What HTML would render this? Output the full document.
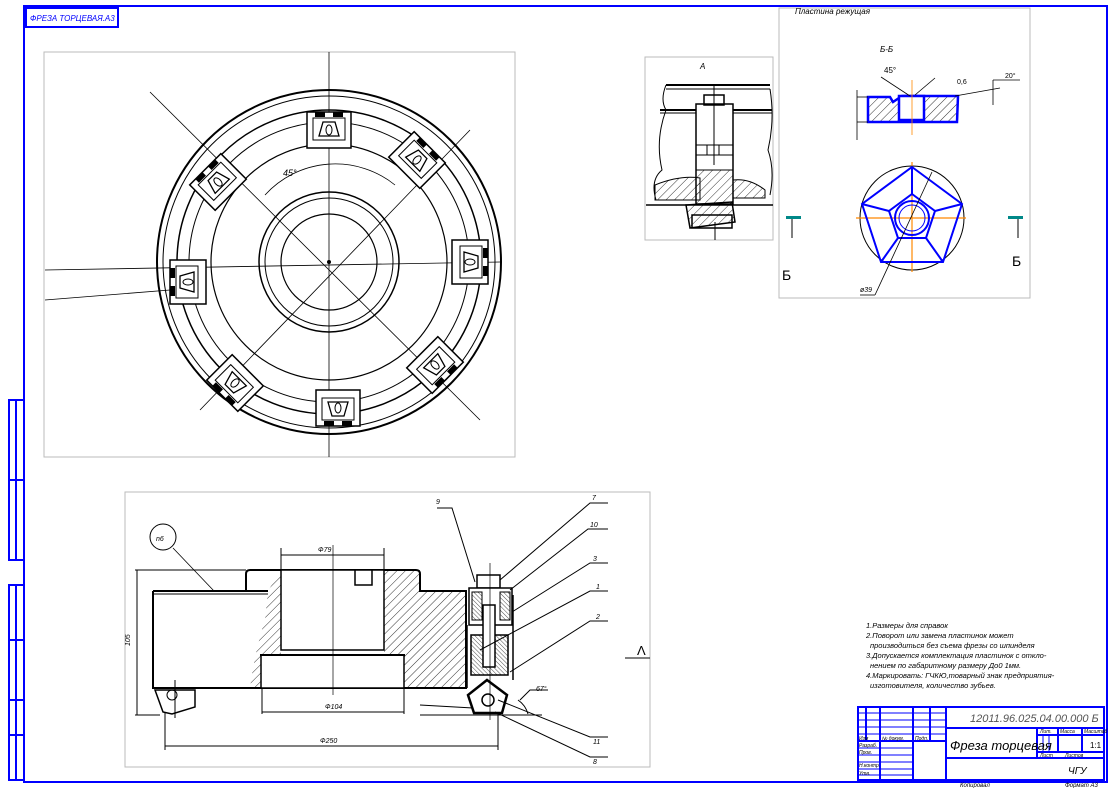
<!DOCTYPE html>
<html><head><meta charset="utf-8"><style>
html,body{margin:0;padding:0;background:#fff;}
svg{display:block;font-family:"Liberation Sans","DejaVu Sans",sans-serif;}
</style></head><body>
<svg width="1111" height="788" viewBox="0 0 1111 788" xmlns="http://www.w3.org/2000/svg">
<defs>
<pattern id="h" width="6" height="6" patternUnits="userSpaceOnUse" patternTransform="rotate(45)"><line x1="0" y1="0" x2="0" y2="6" stroke="#000" stroke-width="0.8"/></pattern>
<pattern id="h2" width="3" height="3" patternUnits="userSpaceOnUse" patternTransform="rotate(-45)"><line x1="0" y1="0" x2="0" y2="3" stroke="#000" stroke-width="0.7"/></pattern>
<g id="ins">
<rect x="-22" y="-18" width="44" height="36" fill="#fff" stroke="#000" stroke-width="1.5"/>
<rect x="-16" y="-12" width="32" height="22" fill="#fff" stroke="#000" stroke-width="1"/>
<rect x="-14" y="-18" width="10" height="5" fill="#000"/>
<rect x="4" y="-18" width="10" height="5" fill="#000"/>
<path d="M-10,6 L10,6 L6,-8 L-6,-8 Z" fill="#fff" stroke="#000" stroke-width="1.3"/>
<ellipse cx="0" cy="0" rx="3" ry="5" fill="none" stroke="#000"/>
</g>
</defs>
<rect width="1111" height="788" fill="#fff"/>
<!-- frame -->
<rect x="24" y="6" width="1083" height="776" fill="none" stroke="#00f" stroke-width="2"/>
<rect x="26" y="8" width="92" height="19" fill="none" stroke="#00f" stroke-width="2"/>
<text x="30" y="21" font-size="8" fill="#00f" font-style="italic">ФРЕЗА ТОРЦЕВАЯ.А3</text>
<g stroke="#00f" stroke-width="2" fill="none">
<rect x="9" y="400" width="15" height="160"/><line x1="9" y1="480" x2="24" y2="480"/>
<rect x="9" y="585" width="15" height="195"/><line x1="9" y1="640" x2="24" y2="640"/><line x1="9" y1="700" x2="24" y2="700"/><line x1="9" y1="735" x2="24" y2="735"/>
<line x1="16" y1="400" x2="16" y2="560"/><line x1="16" y1="585" x2="16" y2="780"/>
</g>

<!-- top view -->
<rect x="44" y="52" width="471" height="405" fill="none" stroke="#bbb"/>
<g fill="none" stroke="#000">
<line x1="329" y1="52" x2="329" y2="457" stroke-width="0.8"/>
<line x1="45" y1="270" x2="500" y2="262" stroke-width="0.8"/>
<line x1="150" y1="92" x2="480" y2="420" stroke-width="0.8"/>
<line x1="470" y1="130" x2="200" y2="410" stroke-width="0.8"/>
<line x1="45" y1="300" x2="170" y2="290" stroke-width="0.8"/>
<circle cx="329" cy="262" r="172" stroke-width="2"/>
<circle cx="329" cy="262" r="166" stroke-width="1"/>
<circle cx="329" cy="262" r="152" stroke-width="1.5"/>
<circle cx="329" cy="262" r="140" stroke-width="1"/>
<circle cx="329" cy="262" r="118" stroke-width="1.2"/>
<circle cx="329" cy="262" r="70" stroke-width="1.5"/>
<circle cx="329" cy="262" r="64" stroke-width="1"/>
<circle cx="329" cy="262" r="48" stroke-width="1.2"/>
<path d="M265,195 A95,95 0 0 1 395,185" stroke-width="0.8"/>
</g>
<text x="283" y="176" font-size="9" font-style="italic">45°</text>
<circle cx="329" cy="262" r="2" fill="#000"/>
<use href="#ins" transform="translate(329,130) rotate(0)"/>
<use href="#ins" transform="translate(417,160) rotate(45)"/>
<use href="#ins" transform="translate(470,262) rotate(90)"/>
<use href="#ins" transform="translate(435,365) rotate(135)"/>
<use href="#ins" transform="translate(338,408) rotate(180)"/>
<use href="#ins" transform="translate(235,383) rotate(225)"/>
<use href="#ins" transform="translate(188,282) rotate(270)"/>
<use href="#ins" transform="translate(218,182) rotate(315)"/>

<!-- view A -->
<rect x="645" y="57" width="128" height="183" fill="none" stroke="#bbb"/>
<text x="700" y="69" font-size="8" font-style="italic">A</text>
<g fill="none" stroke="#000">
<line x1="666" y1="85" x2="770" y2="85" stroke-width="2"/><line x1="666" y1="89" x2="770" y2="89"/>
<line x1="660" y1="110" x2="772" y2="110" stroke-width="2"/><line x1="660" y1="113" x2="772" y2="113"/>
<path d="M666,85 Q660,100 666,110 Q655,140 662,170 Q650,180 656,200" />
<path d="M770,89 Q775,120 768,150 Q775,170 770,195" />
<rect x="696" y="104" width="37" height="100" stroke-width="1.5" fill="#fff"/>
<rect x="704" y="95" width="20" height="10" stroke-width="1.5"/>
<line x1="696" y1="145" x2="733" y2="145"/><line x1="696" y1="155" x2="733" y2="155"/>
<rect x="707" y="145" width="12" height="10"/>
<line x1="714" y1="85" x2="714" y2="165"/>
<path d="M655,185 Q680,175 700,178 L700,200 L655,200 Z" fill="url(#h)"/>
<path d="M733,180 Q750,178 765,190 L765,198 L733,198 Z" fill="url(#h)"/>
<rect x="696" y="170" width="37" height="34" fill="url(#h)"/>
<line x1="646" y1="205" x2="773" y2="205" stroke-width="1.5"/>
<path d="M686,205 L732,202 L735,222 L690,228 Z" fill="url(#h)" stroke-width="1.5"/>
<rect x="692" y="215" width="40" height="13" stroke-width="1.5"/>
<line x1="715" y1="222" x2="715" y2="240"/>
</g>

<!-- view Б -->
<rect x="779" y="8" width="251" height="290" fill="none" stroke="#bbb"/>
<text x="795" y="14" font-size="8" font-style="italic">Пластина режущая</text>
<text x="880" y="52" font-size="8" font-style="italic">Б-Б</text>
<path d="M868,97 L890,97 L893,102 L902,96 L958,96 L957,122 L868,122 Z" fill="url(#h)" stroke="#00f" stroke-width="2.5"/>
<rect x="899" y="96" width="25" height="24" fill="#fff" stroke="#00f" stroke-width="2.5"/>
<g stroke="#000" fill="none" stroke-width="0.8">
<line x1="912" y1="80" x2="912" y2="135" stroke="#f80"/>
<line x1="857" y1="97" x2="868" y2="97"/><line x1="857" y1="122" x2="868" y2="122"/>
<line x1="857" y1="90" x2="857" y2="140"/>
<line x1="881" y1="77" x2="910" y2="96"/><line x1="915" y1="95" x2="935" y2="78"/>
<line x1="955" y1="96" x2="1000" y2="88"/><line x1="993" y1="80" x2="1020" y2="80"/><line x1="993" y1="80" x2="993" y2="105"/>
</g>
<text x="884" y="73" font-size="8">45°</text><text x="957" y="84" font-size="7">0,6</text><text x="1005" y="78" font-size="7">20°</text>
<circle cx="912" cy="218" r="52" fill="none" stroke="#000"/>
<line x1="856" y1="218" x2="966" y2="218" stroke="#f80" stroke-width="1.2"/>
<line x1="912" y1="162" x2="912" y2="272" stroke="#f80" stroke-width="1.2"/>
<g fill="none" stroke="#00f" stroke-width="2">
<polygon points="912,167 962,204 943,262 881,262 862,204"/>
<polygon points="912,194 935,211 926,238 898,238 889,211"/>
<line x1="912" y1="167" x2="912" y2="194"/><line x1="962" y1="204" x2="935" y2="211"/><line x1="943" y1="262" x2="926" y2="238"/><line x1="881" y1="262" x2="898" y2="238"/><line x1="862" y1="204" x2="889" y2="211"/>
<circle cx="912" cy="218" r="17"/><circle cx="912" cy="218" r="13" stroke-width="1"/>
</g>
<line x1="932" y1="172" x2="875" y2="295" stroke="#000" stroke-width="0.8"/>
<line x1="860" y1="295" x2="875" y2="295" stroke="#000" stroke-width="0.8"/>
<text x="860" y="292" font-size="7" font-style="italic">ø39</text>
<rect x="786" y="216" width="15" height="3" fill="#088"/><line x1="792" y1="219" x2="792" y2="238" stroke="#000"/>
<rect x="1008" y="216" width="15" height="3" fill="#088"/><line x1="1018" y1="219" x2="1018" y2="238" stroke="#000"/>
<text x="782" y="280" font-size="14">Б</text><text x="1012" y="266" font-size="14">Б</text>

<!-- section view -->
<rect x="125" y="492" width="525" height="275" fill="none" stroke="#bbb"/>
<circle cx="163" cy="537" r="13" fill="none" stroke="#000"/>
<text x="156" y="541" font-size="7" font-style="italic">n6</text>
<line x1="173" y1="548" x2="214" y2="591" stroke="#000" stroke-width="0.8"/>
<g stroke="#000" fill="none">
<path d="M268,591 L281,570 L281,655 L261,655 L261,688 L250,688 Q255,650 265,620 Z" fill="url(#h)" stroke="none"/>
<path d="M384,570 L416,570 Q420,570 420,574 L420,591 L466,591 L466,688 L404,688 L404,655 L384,655 Z" fill="url(#h)" stroke="none"/>
<path d="M153,591 L268,591 M246,591 L246,574 Q246,570 250,570 L416,570 Q420,570 420,574 L420,591 L466,591 L466,688 L153,688 L153,591" stroke-width="2"/>
<line x1="153" y1="594" x2="268" y2="594"/>
<rect x="281" y="570" width="103" height="80" stroke-width="1.5" fill="#fff"/>
<rect x="355" y="570" width="17" height="15" stroke-width="1.5" fill="#fff"/>
<rect x="261" y="655" width="143" height="33" stroke-width="1.5" fill="#fff"/>
<line x1="260" y1="655" x2="405" y2="655" stroke-width="2"/>
<line x1="333" y1="545" x2="333" y2="695" stroke-width="0.7"/>
<path d="M155,690 L195,690 L195,707 L172,714 L163,712 Z" stroke-width="1.5" fill="#fff"/>
<circle cx="172" cy="695" r="5"/>
<line x1="175" y1="680" x2="175" y2="718"/>
<line x1="281" y1="555" x2="384" y2="555"/><line x1="281" y1="548" x2="281" y2="570"/><line x1="384" y1="548" x2="384" y2="570"/>
<line x1="262" y1="712" x2="404" y2="712"/><line x1="262" y1="688" x2="262" y2="714"/><line x1="404" y1="688" x2="404" y2="714"/>
<line x1="165" y1="746" x2="498" y2="746"/><line x1="165" y1="712" x2="165" y2="750"/><line x1="498" y1="712" x2="498" y2="750"/>
<line x1="137" y1="570" x2="137" y2="715"/><line x1="135" y1="570" x2="246" y2="570"/><line x1="135" y1="715" x2="160" y2="715"/>
<rect x="477" y="575" width="23" height="13" stroke-width="1.5" fill="#fff"/>
<rect x="469" y="588" width="43" height="37" stroke-width="1.5" fill="#fff"/>
<rect x="472" y="592" width="10" height="28" fill="url(#h2)"/><rect x="500" y="592" width="10" height="28" fill="url(#h2)"/>
<rect x="471" y="635" width="37" height="40" fill="url(#h2)" stroke-width="1.5"/>
<rect x="483" y="605" width="12" height="62" stroke-width="1.5" fill="#fff"/>
<line x1="513" y1="595" x2="513" y2="680" stroke-width="1.5"/>
<line x1="467" y1="625" x2="467" y2="688" stroke-width="1.5"/>
<polygon points="487,680 507,695 502,713 474,713 468,695" stroke-width="2.5" fill="#fff"/>
<circle cx="488" cy="700" r="6" stroke-width="1.5"/>
<line x1="490" y1="563" x2="490" y2="720" stroke-width="0.7"/>
<line x1="420" y1="705" x2="473" y2="708"/><line x1="420" y1="715" x2="542" y2="715"/>
<path d="M518,700 A25,25 0 0 1 528,714"/>
<polyline points="437,508 452,508 475,582"/>
<polyline points="608,503 590,503 500,580"/>
<polyline points="608,529 588,529 510,590"/>
<polyline points="608,563 590,563 512,612"/>
<polyline points="608,591 590,591 480,650"/>
<polyline points="608,621 590,621 510,672"/>
<polyline points="608,737 590,737 498,700"/>
<polyline points="608,757 590,757 495,712"/>
<polyline points="548,690 530,690 520,700"/>
<line x1="625" y1="658" x2="650" y2="658"/>
</g>
<g font-size="7" font-style="italic">
<text x="318" y="552">Ф79</text><text x="325" y="709">Ф104</text><text x="320" y="743">Ф250</text>
<text x="130" y="646" transform="rotate(-90 130 646)">105</text>
<text x="436" y="504">9</text><text x="592" y="500">7</text><text x="590" y="527">10</text><text x="593" y="561">3</text>
<text x="596" y="589">1</text><text x="596" y="619">2</text><text x="593" y="744">11</text><text x="593" y="764">8</text>
<text x="536" y="691">67°</text>
</g>
<text x="637" y="655" font-size="13">Λ</text>

<g font-size="7.5" font-style="italic">
<text x="866" y="628">1.Размеры для справок</text>
<text x="866" y="638">2.Поворот или замена пластинок может</text>
<text x="870" y="648">производиться без съема фрезы со шпинделя</text>
<text x="866" y="658">3.Допускается комплектация пластинок с откло-</text>
<text x="870" y="668">нением по габаритному размеру До0 1мм.</text>
<text x="866" y="678">4.Маркировать: ГЧКЮ,товарный знак предприятия-</text>
<text x="870" y="688">изготовителя, количество зубьев.</text>
</g>

<g stroke="#00f" stroke-width="2" fill="none">
<rect x="858" y="707" width="246" height="73"/>
<line x1="946" y1="707" x2="946" y2="780"/>
<line x1="866" y1="707" x2="866" y2="740"/><line x1="880" y1="707" x2="880" y2="780"/><line x1="913" y1="707" x2="913" y2="780"/><line x1="930" y1="707" x2="930" y2="740"/>
<line x1="946" y1="728" x2="1104" y2="728"/><line x1="946" y1="758" x2="1104" y2="758"/>
<line x1="1037" y1="728" x2="1037" y2="758"/><line x1="1037" y1="735" x2="1104" y2="735"/><line x1="1037" y1="752" x2="1104" y2="752"/>
<line x1="1058" y1="728" x2="1058" y2="752"/><line x1="1082" y1="728" x2="1082" y2="752"/>
</g>
<g stroke="#00f" stroke-width="1" fill="none">
<line x1="858" y1="713" x2="946" y2="713"/><line x1="858" y1="720" x2="946" y2="720"/><line x1="858" y1="727" x2="946" y2="727"/><line x1="858" y1="734" x2="946" y2="734"/>
<line x1="858" y1="741" x2="946" y2="741" stroke-width="2"/><line x1="858" y1="748" x2="913" y2="748"/><line x1="858" y1="755" x2="913" y2="755"/><line x1="858" y1="762" x2="913" y2="762"/><line x1="858" y1="769" x2="913" y2="769"/><line x1="858" y1="775" x2="913" y2="775"/>
<line x1="1043" y1="735" x2="1043" y2="752"/><line x1="1049" y1="735" x2="1049" y2="752"/>
</g>
<text x="970" y="722" font-size="11" font-style="italic" fill="#555">12011.96.025.04.00.000 Б</text>
<text x="950" y="750" font-size="13" font-style="italic">Фреза торцевая</text>
<text x="1090" y="748" font-size="8">1:1</text>
<text x="1068" y="774" font-size="10" font-style="italic">ЧГУ</text>
<g font-size="5" font-style="italic"><text x="1040" y="733">Лит.</text><text x="1060" y="733">Масса</text><text x="1084" y="733">Масштаб</text><text x="1040" y="757">Лист</text><text x="1065" y="757">Листов</text>
<text x="859" y="740">Изм</text><text x="882" y="740">№ докум.</text><text x="915" y="740">Подп.</text>
<text x="859" y="747">Разраб.</text><text x="859" y="754">Пров.</text><text x="859" y="767">Н.контр.</text><text x="859" y="775">Утв.</text></g>
<text x="960" y="787" font-size="6" font-style="italic">Копировал</text><text x="1065" y="787" font-size="6" font-style="italic">Формат А3</text>
</svg>
</body></html>
